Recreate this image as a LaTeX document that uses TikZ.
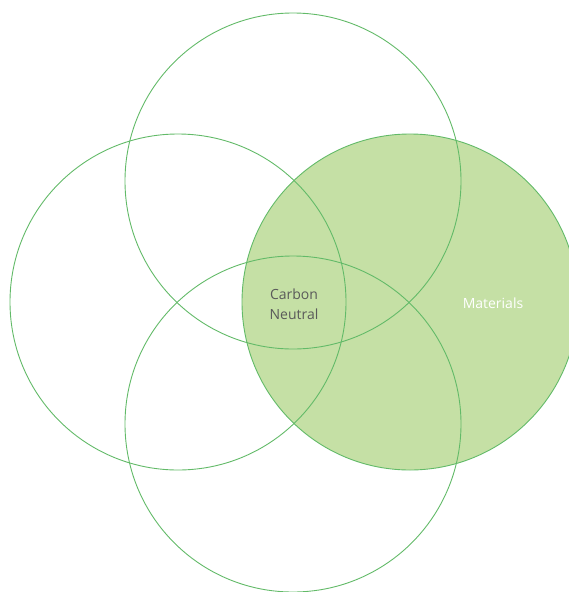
\documentclass[tikz,border=0pt]{standalone}
\usepackage{fontspec}
\setmainfont{Open Sans}
\definecolor{ringline}{RGB}{98,186,104}
\definecolor{ringfill}{RGB}{197,224,165}
\definecolor{labelgray}{RGB}{90,90,90}
\begin{document}
\begin{tikzpicture}[x=1pt,y=-1pt,
  ring/.style={draw=ringline,line width=0.9pt},
  lbl/.style={font=\fontsize{14}{20}\selectfont,align=center,inner sep=0pt}]
\useasboundingbox (0,0) rectangle (569,592);
\begin{scope}
\clip (0,0) rectangle (569,592);
% filled circle underneath every outline
\fill[ringfill] (410,302) circle (168);
\coordinate (top) at (293,181);
\coordinate (left) at (178,302);
\coordinate (bottom) at (293,424);
\coordinate (right) at (410,302);
\draw[ring] (top) circle (168);
\draw[ring] (left) circle (168);
\draw[ring] (bottom) circle (168);
\draw[ring] (right) circle (168);
\end{scope}
\node[lbl,text=labelgray] (cn) at (294,304) {Carbon\\Neutral};
\node[lbl,text=white] (mat) at (493,303) {Materials};
\end{tikzpicture}
\end{document}
